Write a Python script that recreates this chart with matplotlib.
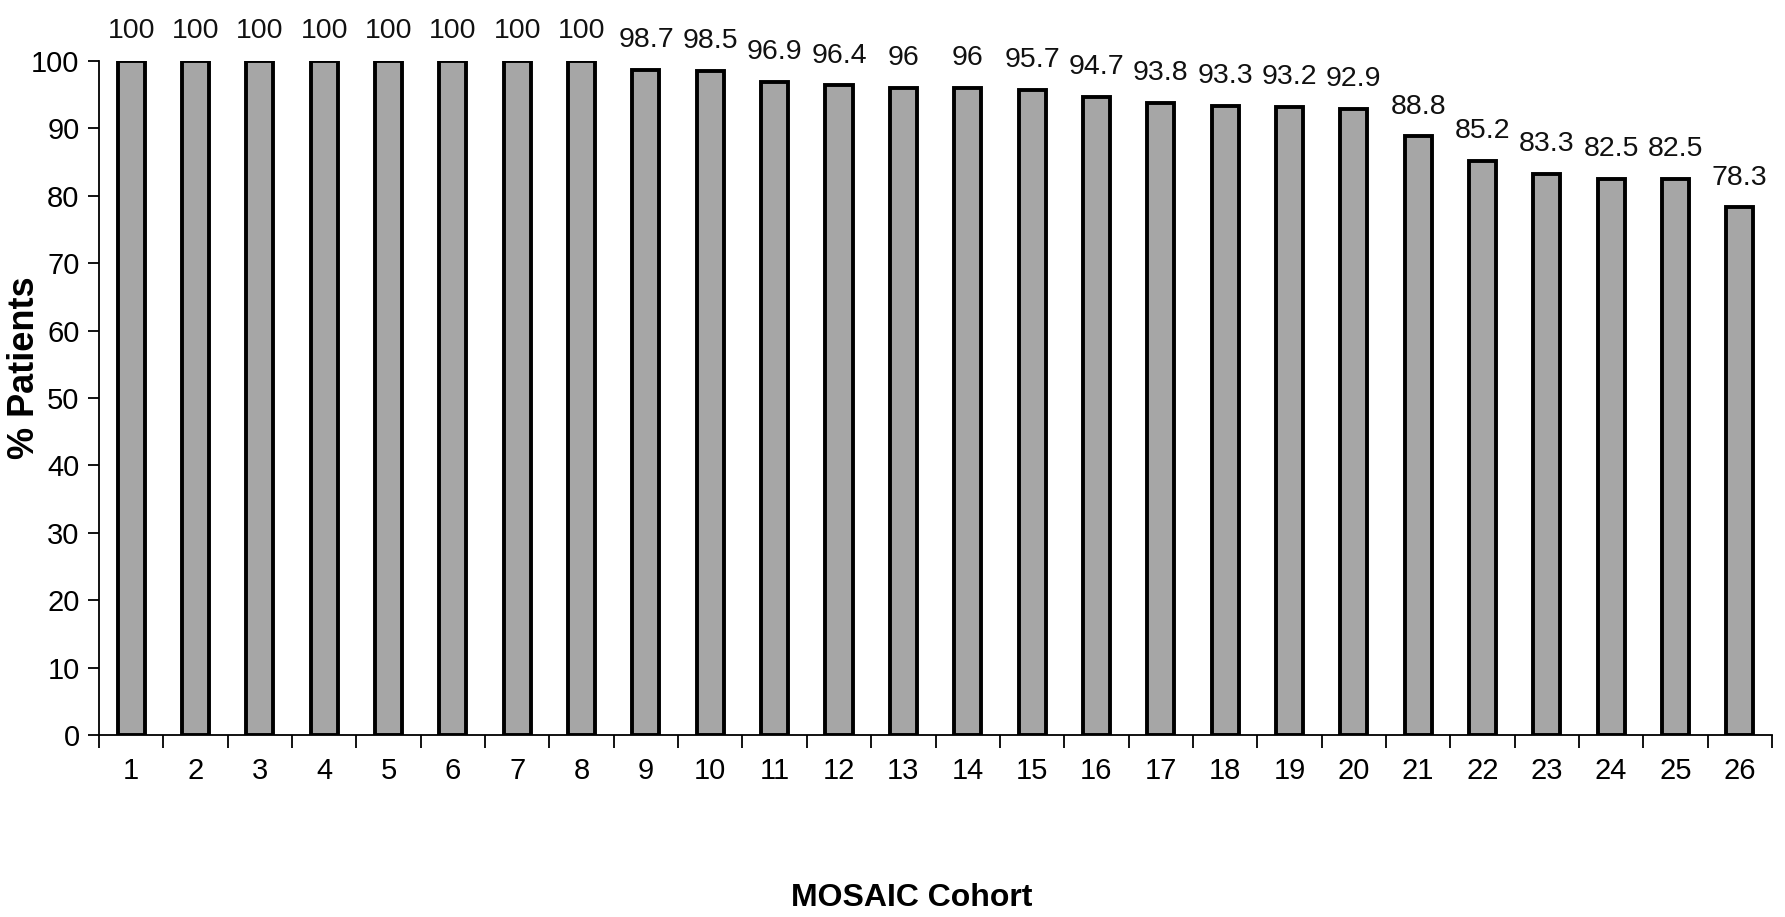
import matplotlib.pyplot as plt
import numpy as np

cohorts = [str(i) for i in range(1, 27)]
pct = [100, 100, 100, 100, 100, 100, 100, 100, 98.7, 98.5, 96.9, 96.4, 96, 96,
       95.7, 94.7, 93.8, 93.3, 93.2, 92.9, 88.8, 85.2, 83.3, 82.5, 82.5, 78.3]
value_labels = ['100', '100', '100', '100', '100', '100', '100', '100', '98.7', '98.5',
                '96.9', '96.4', '96', '96', '95.7', '94.7', '93.8', '93.3', '93.2',
                '92.9', '88.8', '85.2', '83.3', '82.5', '82.5', '78.3']

plt.rcParams['font.family'] = ['Liberation Sans Narrow', 'Liberation Sans', 'DejaVu Sans']

fig = plt.figure(figsize=(17.85, 9.17), dpi=100)
ax = fig.add_axes([0.0555, 0.1985, 0.9372, 0.735])

x = np.arange(len(cohorts))
ax.bar(x, pct, width=0.42, color='#a6a6a6', edgecolor='black', linewidth=2.8, zorder=3)

for xi, v, lab in zip(x, pct, value_labels):
    ax.annotate(lab, (xi, v), xytext=(0, 12), textcoords='offset points',
                ha='center', va='bottom', fontsize=20.5, color='#111111',
                annotation_clip=False)

ax.set_xlim(-0.5, len(cohorts) - 0.5)
ax.set_ylim(0, 100)
ax.set_yticks(np.arange(0, 101, 10))
ax.tick_params(axis='y', labelsize=21, length=8, width=1.3, direction='out', pad=6)

# boundary ticks on the category axis, labels at the centres
ax.set_xticks(np.arange(-0.5, len(cohorts), 1.0))
ax.set_xticklabels([])
ax.tick_params(axis='x', which='major', length=9, width=1.3, direction='out')
ax.set_xticks(x, minor=True)
ax.set_xticklabels(cohorts, minor=True)
ax.tick_params(axis='x', which='minor', length=0, labelsize=21, pad=16)

for s in ['top', 'right']:
    ax.spines[s].set_visible(False)
for s in ['left', 'bottom']:
    ax.spines[s].set_linewidth(1.3)

fig.text(0.014, 0.599, '% Patients', rotation=90, ha='center', va='center',
         fontsize=26, fontweight='bold', family=['Liberation Sans', 'DejaVu Sans'])
fig.text(0.511, 0.021, 'MOSAIC Cohort', ha='center', va='center',
         fontsize=23, fontweight='bold', family=['Liberation Sans', 'DejaVu Sans'])

fig.savefig('out.png', dpi=100)
